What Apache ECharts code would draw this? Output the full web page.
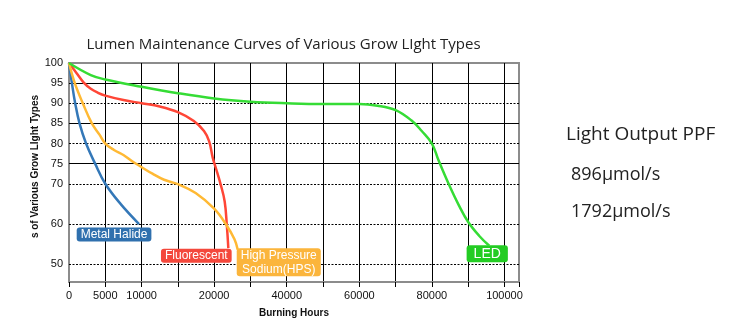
<!DOCTYPE html>
<html>
<head>
<meta charset="utf-8">
<script src="https://cdn.jsdelivr.net/npm/echarts@6/dist/echarts.min.js"></script>
<style>
  html, body { margin: 0; padding: 0; background: #fff; }
  #chart { width: 750px; height: 333px; }
</style>
</head>
<body>
<div id="chart"></div>
<script>
// Burning-hour values labelled on the x axis
const xTickHours = [0, 5000, 10000, 20000, 40000, 60000, 80000, 100000];
// Lumen-maintenance values labelled on the y axis
const yTickValues = [50, 60, 70, 75, 80, 85, 90, 95, 100];
// Horizontal reference lines: solid ones and dotted ones
const ySolidGrid = [95, 85, 75];
const yDottedGrid = [90, 80, 70, 60, 50];

// Lumen maintenance (%) against burning hours for each lamp type
const metalHalideHours = [0, 400, 850, 1450, 2350, 3600, 5000, 7100, 9650];
const metalHalideLumen = [100, 95, 90, 85, 80, 75, 70, 65, 60];

const fluorescentHours = [0, 1000, 2000, 3000, 4000, 5000, 7500, 10000, 12500, 15000, 17200, 18600, 19300, 19800, 20400, 21800, 22900, 23500, 23900];
const fluorescentLumen = [100, 97.6, 95.2, 93.6, 92.6, 91.9, 90.8, 90, 89.2, 87.8, 85.6, 83.1, 80.6, 76.5, 74.1, 69.8, 65.6, 59.6, 54];

const hpsHours = [0, 800, 1900, 3150, 4200, 5000, 6200, 7550, 8700, 9850, 11500, 13100, 15000, 17450, 20000, 23200, 25600, 26500];
const hpsLumen = [100, 95, 90, 85, 82.2, 80, 78.4, 77.1, 75.6, 74.3, 72.5, 71, 69.9, 67.7, 63.8, 60, 56.2, 53.6];

const ledHours = [0, 3000, 5000, 10000, 15000, 20000, 30000, 40000, 50000, 60000, 65000, 70000, 74400, 77200, 80000, 81800, 84600, 87400, 90000, 93000, 95800];
const ledLumen = [100, 97, 95.9, 94.1, 92.5, 91.2, 90.4, 90, 89.8, 89.8, 89.4, 88.3, 85.7, 83.1, 80, 75.9, 70, 64.7, 60.5, 57.1, 54.6];

const lampNames = ['Metal Halide', 'Fluorescent', 'High Pressure\nSodium(HPS)', 'LED'];

// Side panel text
const sideTitle = 'Light Output PPF';
const sideValues = ['896µmol/s', '1792µmol/s'];
const chartTitle = 'Lumen Maintenance Curves of Various Grow LIght Types';
const yAxisTitle = 's of Various Grow LIght Types';
const xAxisTitle = 'Burning Hours';

// The hour axis is piecewise: 5000 h per grid step up to 20000 h, 10000 h per step after that.
function hoursToStep(h) {
  return h <= 20000 ? h / 5000 : 4 + (h - 20000) / 10000;
}
const xTickSteps = xTickHours.map(hoursToStep);

// Per-lamp drawing style: line colour, tag colour, tag offset from curve end, tag font size
const lampStyles = [
  { line: '#3478b8', tag: '#2f70ae', offset: [-25, 3], size: 12 },
  { line: '#ff4636', tag: '#f4483c', offset: [-32, 0], size: 12 },
  { line: '#ffb934', tag: '#fbb53c', offset: [41, -2], size: 12 },
  { line: '#35dc35', tag: '#23cc23', offset: [-2, -1], size: 14 }
];

const lampData = [
  [metalHalideHours, metalHalideLumen],
  [fluorescentHours, fluorescentLumen],
  [hpsHours, hpsLumen],
  [ledHours, ledLumen]
];

const FONT = 'Liberation Sans, Arial, sans-serif';

const lampSeries = lampData.map(([hours, lumen], i) => {
  const pts = hours.map((h, k) => [hoursToStep(h), lumen[k]]);
  const last = pts[pts.length - 1];
  const st = lampStyles[i];
  return {
    type: 'line',
    name: lampNames[i],
    data: pts,
    smooth: 0.4,
    showSymbol: false,
    z: 5,
    lineStyle: { color: st.line, width: 2.5 },
    itemStyle: { color: st.line },
    markPoint: {
      silent: true,
      symbol: 'circle',
      symbolSize: 1,
      itemStyle: { color: 'rgba(0,0,0,0)' },
      data: [{ coord: last }],
      label: {
        show: true,
        position: 'bottom',
        distance: 0,
        offset: st.offset,
        formatter: lampNames[i],
        color: '#fff',
        fontFamily: FONT,
        fontSize: st.size,
        lineHeight: st.size === 14 ? 17 : 14,
        backgroundColor: st.tag,
        borderRadius: 3,
        padding: st.size === 14 ? [0, 7] : [0, 4],
        align: 'center'
      }
    }
  };
});

// Horizontal reference lines drawn through the value axis
const gridLineSeries = {
  type: 'line',
  data: [],
  z: 1,
  silent: true,
  markLine: {
    silent: true,
    symbol: ['none', 'none'],
    label: { show: false },
    emphasis: { disabled: true },
    data: ySolidGrid.map(v => ({ yAxis: v, lineStyle: { color: '#000', width: 1, type: 'solid' } }))
      .concat(yDottedGrid.map(v => ({ yAxis: v, lineStyle: { color: '#000', width: 1, type: [2, 1.5] } })))
  }
};

const chart = echarts.init(document.getElementById('chart'), null, { renderer: 'canvas' });

chart.setOption({
  animation: false,
  backgroundColor: '#fff',
  grid: {
    left: 69, right: 231, top: 63, bottom: 51,
    show: true, borderColor: '#8c8c8c', borderWidth: 2, backgroundColor: '#fff'
  },
  xAxis: {
    type: 'value',
    min: 0,
    max: 12.4,
    interval: 1,
    name: xAxisTitle,
    nameLocation: 'middle',
    nameGap: 26,
    nameTextStyle: { fontFamily: FONT, fontWeight: 'bold', fontSize: 10, color: '#111' },
    axisLine: { lineStyle: { color: '#8c8c8c', width: 2 } },
    axisTick: { show: true, length: 5, lineStyle: { color: '#000', width: 1 } },
    axisLabel: {
      color: '#111', fontFamily: FONT, fontSize: 11, margin: 8,
      formatter: v => {
        const i = xTickSteps.findIndex(s => Math.abs(s - v) < 1e-6);
        return i >= 0 ? String(xTickHours[i]) : '';
      }
    },
    splitLine: { show: true, showMinLine: false, showMaxLine: false, lineStyle: { color: '#000', width: 1 } }
  },
  yAxis: {
    type: 'value',
    min: 45.6,
    max: 100,
    name: yAxisTitle,
    nameLocation: 'middle',
    nameRotate: 90,
    nameGap: 29,
    nameMoveOverlap: false,
    nameTextStyle: { fontFamily: FONT, fontWeight: 'bold', fontSize: 10, color: '#111', padding: [0, 0, 0, 12] },
    axisLine: { show: true, lineStyle: { color: '#8c8c8c', width: 2 } },
    axisTick: { show: false },
    axisLabel: { color: '#111', fontFamily: FONT, fontSize: 11, margin: 6, customValues: yTickValues },
    splitLine: { show: false }
  },
  graphic: [
    {
      type: 'text', x: 283.5, y: 45, z: 10,
      style: { text: chartTitle, font: '15px "Open Sans"', fill: '#222', align: 'center', verticalAlign: 'middle' }
    },
    {
      type: 'text', x: 566, y: 135, z: 10,
      style: { text: sideTitle, font: '19px "Open Sans"', fill: '#222', align: 'left', verticalAlign: 'middle' }
    },
    {
      type: 'text', x: 571, y: 175, z: 10,
      style: { text: sideValues[0], font: '18px "Open Sans"', fill: '#222', align: 'left', verticalAlign: 'middle' }
    },
    {
      type: 'text', x: 571, y: 211.5, z: 10,
      style: { text: sideValues[1], font: '18px "Open Sans"', fill: '#222', align: 'left', verticalAlign: 'middle' }
    }
  ],
  series: [gridLineSeries].concat(lampSeries)
});
</script>
</body>
</html>
